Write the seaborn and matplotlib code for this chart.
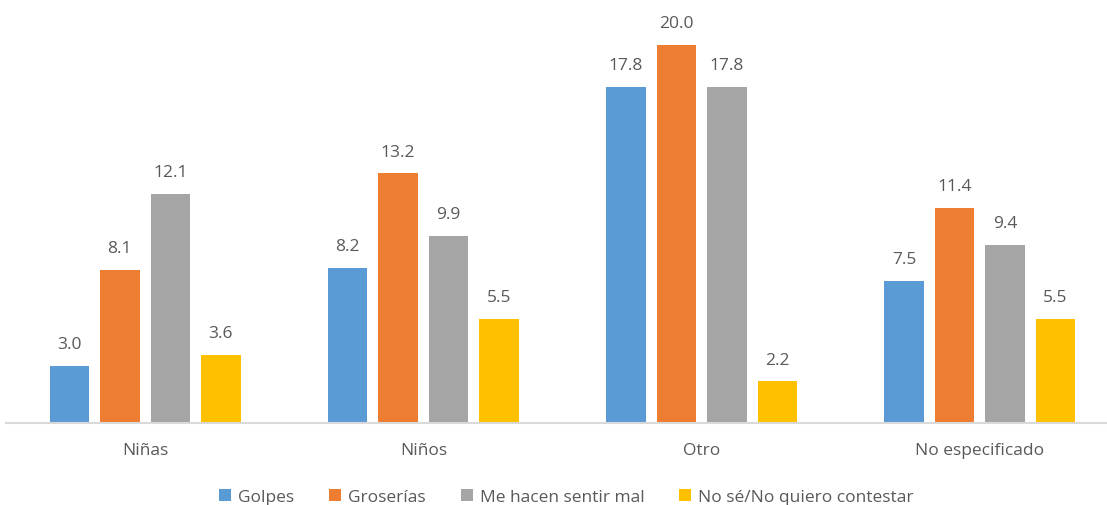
import seaborn as sns
import pandas as pd
import matplotlib.pyplot as plt

categories = ['Niñas', 'Niños', 'Otro', 'No especificado']
series = ['Golpes', 'Groserías', 'Me hacen sentir mal', 'No sé/No quiero contestar']
golpes = [3.0, 8.2, 17.8, 7.5]
groserias = [8.1, 13.2, 20.0, 11.4]
sentir_mal = [12.1, 9.9, 17.8, 9.4]
no_se = [3.6, 5.5, 2.2, 5.5]

palette = ['#5B9BD5', '#ED7D31', '#A5A5A5', '#FFC000']
text_col = '#595959'

df = pd.DataFrame({'categoria': categories * 4,
                   'serie': [s for s in series for _ in categories],
                   'valor': golpes + groserias + sentir_mal + no_se})

sns.set_theme(style='white')
plt.rcParams['font.family'] = ['Open Sans', 'DejaVu Sans']

fig = plt.figure(figsize=(11.07, 5.06), dpi=100)
ax = fig.add_axes([6 / 1107, 82 / 506, 1 - 6 / 1107, 424 / 506])
sns.barplot(data=df, x='categoria', y='valor', hue='serie', palette=palette,
            width=0.726, gap=0.22, saturation=1, linewidth=0, ax=ax, legend=True)

for cont in ax.containers:
    ax.bar_label(cont, fmt='%.1f', padding=10, fontsize=12.5, color=text_col)

ax.set_xlim(-0.5, 3.457)
ax.set_ylim(0, 22.43)
ax.set_xlabel('')
ax.set_ylabel('')
ax.set_yticks([])
ax.tick_params(axis='x', length=0, pad=14, labelsize=12.5, labelcolor=text_col)
for side in ['top', 'right', 'left']:
    ax.spines[side].set_visible(False)
ax.spines['bottom'].set_color('#D9D9D9')
ax.spines['bottom'].set_linewidth(1.5)

sns.move_legend(ax, 'lower center', bbox_to_anchor=(0.5 + 10 / 1107, -0.23),
                ncol=4, frameon=False, title='', fontsize=12.5,
                handlelength=0.7, handleheight=0.7, handletextpad=0.4,
                columnspacing=2.0, labelcolor=text_col)

fig.savefig('out.png', dpi=100)
